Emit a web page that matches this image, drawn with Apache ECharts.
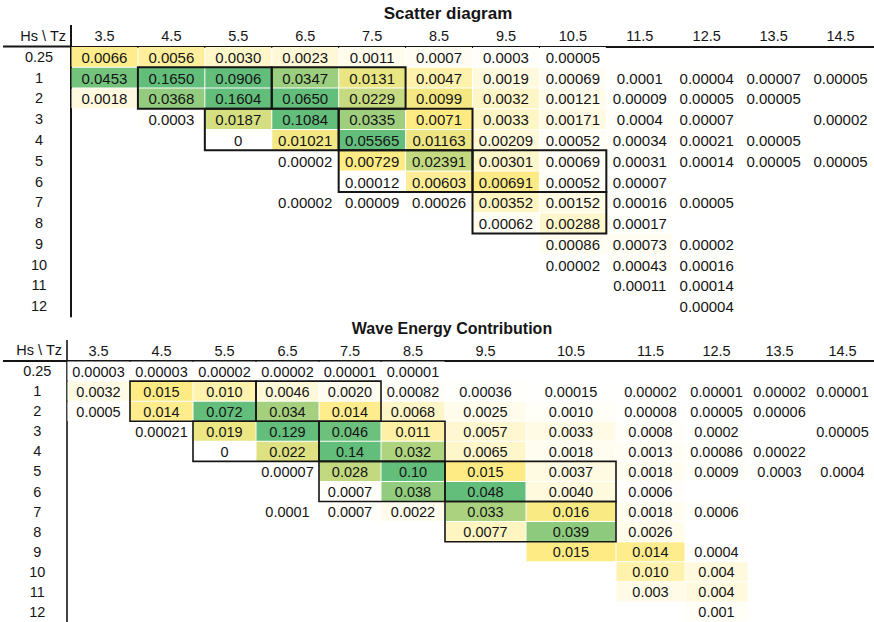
<!DOCTYPE html>
<html>
<head>
<meta charset="utf-8">
<script src="https://cdn.jsdelivr.net/npm/echarts@6/dist/echarts.min.js"></script>
<style>
html,body{margin:0;padding:0;background:#fff;}
#chart{width:874px;height:622px;}
</style>
</head>
<body>
<div id="chart"></div>
<script>
// ---------- data ----------
const tzLabels = ['3.5','4.5','5.5','6.5','7.5','8.5','9.5','10.5','11.5','12.5','13.5','14.5'];
const hsLabels = ['0.25','1','2','3','4','5','6','7','8','9','10','11','12'];

// Scatter diagram (probability of occurrence), rows = Hs, columns = Tz
const scatter025 = ['0.0066','0.0056','0.0030','0.0023','0.0011','0.0007','0.0003','0.00005','','','',''];
const scatter1   = ['0.0453','0.1650','0.0906','0.0347','0.0131','0.0047','0.0019','0.00069','0.0001','0.00004','0.00007','0.00005'];
const scatter2   = ['0.0018','0.0368','0.1604','0.0650','0.0229','0.0099','0.0032','0.00121','0.00009','0.00005','0.00005',''];
const scatter3   = ['','0.0003','0.0187','0.1084','0.0335','0.0071','0.0033','0.00171','0.0004','0.00007','','0.00002'];
const scatter4   = ['','','0','0.01021','0.05565','0.01163','0.00209','0.00052','0.00034','0.00021','0.00005',''];
const scatter5   = ['','','','0.00002','0.00729','0.02391','0.00301','0.00069','0.00031','0.00014','0.00005','0.00005'];
const scatter6   = ['','','','','0.00012','0.00603','0.00691','0.00052','0.00007','','',''];
const scatter7   = ['','','','0.00002','0.00009','0.00026','0.00352','0.00152','0.00016','0.00005','',''];
const scatter8   = ['','','','','','','0.00062','0.00288','0.00017','','',''];
const scatter9   = ['','','','','','','','0.00086','0.00073','0.00002','',''];
const scatter10  = ['','','','','','','','0.00002','0.00043','0.00016','',''];
const scatter11  = ['','','','','','','','','0.00011','0.00014','',''];
const scatter12  = ['','','','','','','','','','0.00004','',''];

// Wave energy contribution, rows = Hs, columns = Tz
const energy025 = ['0.00003','0.00003','0.00002','0.00002','0.00001','0.00001','','','','','',''];
const energy1   = ['0.0032','0.015','0.010','0.0046','0.0020','0.00082','0.00036','0.00015','0.00002','0.00001','0.00002','0.00001'];
const energy2   = ['0.0005','0.014','0.072','0.034','0.014','0.0068','0.0025','0.0010','0.00008','0.00005','0.00006',''];
const energy3   = ['','0.00021','0.019','0.129','0.046','0.011','0.0057','0.0033','0.0008','0.0002','','0.00005'];
const energy4   = ['','','0','0.022','0.14','0.032','0.0065','0.0018','0.0013','0.00086','0.00022',''];
const energy5   = ['','','','0.00007','0.028','0.10','0.015','0.0037','0.0018','0.0009','0.0003','0.0004'];
const energy6   = ['','','','','0.0007','0.038','0.048','0.0040','0.0006','','',''];
const energy7   = ['','','','0.0001','0.0007','0.0022','0.033','0.016','0.0018','0.0006','',''];
const energy8   = ['','','','','','','0.0077','0.039','0.0026','','',''];
const energy9   = ['','','','','','','','0.015','0.014','0.0004','',''];
const energy10  = ['','','','','','','','','0.010','0.004','',''];
const energy11  = ['','','','','','','','','0.003','0.004','',''];
const energy12  = ['','','','','','','','','','0.001','',''];

// outlined blocks: [firstCol, lastCol, firstRow, lastRow] (indices into tzLabels / hsLabels)
const blocks = [[1,2,1,2],[3,4,1,2],[2,3,3,4],[4,5,3,4],[4,5,5,6],[6,7,5,6],[6,7,7,8]];

const scatterRows = [scatter025,scatter1,scatter2,scatter3,scatter4,scatter5,scatter6,scatter7,scatter8,scatter9,scatter10,scatter11,scatter12];
const energyRows  = [energy025,energy1,energy2,energy3,energy4,energy5,energy6,energy7,energy8,energy9,energy10,energy11,energy12];

// ---------- layout / style ----------
const FONT = "'Liberation Sans', Arial, Helvetica, sans-serif";
const INK = '#151515';
const G1 = {left:71, top:46.5, width:803, height:270};
const G2 = {left:67, top:361, width:807, height:262};
const EDGES1 = [];
for (let k = 0; k <= 12; k++) EDGES1.push(k * G1.width / 12);
const EDGES2 = [0,63,126,189,252,314,378,459,549,618,681,744,807];
// colour scale stops (white -> yellow -> green)
const STOPS1 = [[0,[255,255,255]],[0.007,[255,235,132]],[0.05,[99,190,123]]];
const STOPS2 = [[0,[255,255,255]],[0.015,[255,235,132]],[0.048,[99,190,123]]];

function scaleColor(v, stops){
  if (v <= stops[0][0]) return 'rgb(' + stops[0][1].join(',') + ')';
  for (let i = 0; i < stops.length - 1; i++){
    const a = stops[i], b = stops[i+1];
    if (v <= b[0]){
      const t = (v - a[0]) / (b[0] - a[0]);
      const c = a[1].map((x, j) => Math.round(x + (b[1][j] - x) * t));
      return 'rgb(' + c.join(',') + ')';
    }
  }
  return 'rgb(' + stops[stops.length-1][1].join(',') + ')';
}

function centers(edges){
  const out = [];
  for (let i = 0; i < edges.length - 1; i++) out.push((edges[i] + edges[i+1]) / 2);
  return out;
}

function cellSeries(idx, rows, edges, stops, fontSize){
  const data = [], labels = [];
  rows.forEach((row, r) => row.forEach((s, c) => {
    if (s !== '') { data.push([c, r, parseFloat(s)]); labels.push(s); }
  }));
  return {
    type:'custom', xAxisIndex:idx, yAxisIndex:idx, z:2,
    data: data, encode:{x:0, y:1},
    renderItem: function(params, api){
      const c = api.value(0), r = api.value(1), v = api.value(2);
      const p0 = api.coord([edges[c], r]);
      const p1 = api.coord([edges[c+1], r]);
      const h = api.size([0, 1])[1];
      return {
        type:'group',
        children:[
          {type:'rect', shape:{x:p0[0]+0.5, y:p0[1]-h/2+0.5, width:p1[0]-p0[0]-1, height:h-1},
           style:{fill:scaleColor(v, stops)}},
          {type:'text', style:{text:labels[params.dataIndex], x:(p0[0]+p1[0])/2, y:p0[1]+0.5,
            align:'center', verticalAlign:'middle', fill:INK, font: fontSize + 'px ' + FONT}}
        ]
      };
    }
  };
}

function blockSeries(idx, edges, lw){
  return {
    type:'custom', xAxisIndex:idx, yAxisIndex:idx, z:5,
    data: blocks, encode:{x:0, y:2},
    renderItem: function(params, api){
      const c0 = api.value(0), c1 = api.value(1), r0 = api.value(2), r1 = api.value(3);
      const h = api.size([0, 1])[1];
      const a = api.coord([edges[c0], r0]);
      const b = api.coord([edges[c1+1], r1]);
      return {type:'rect', shape:{x:a[0], y:a[1]-h/2, width:b[0]-a[0], height:(b[1]-a[1])+h},
        style:{fill:'none', stroke:INK, lineWidth:lw}};
    }
  };
}

function xAxisFor(idx, grid, edges, margin, fs){
  const cs = centers(edges);
  return {
    gridIndex:idx, type:'value', min:0, max:grid.width, position:'top',
    axisLine:{show:true, onZero:false, lineStyle:{color:INK, width:2}},
    axisTick:{show:false}, splitLine:{show:false},
    axisLabel:{
      customValues: cs, margin: margin, verticalAlign:'middle',
      fontSize: fs, fontFamily: FONT, color: INK,
      formatter: function(v){
        let best = 0, d = Infinity;
        cs.forEach((c, i) => { if (Math.abs(c - v) < d) { d = Math.abs(c - v); best = i; } });
        return tzLabels[best];
      }
    }
  };
}

function yAxisFor(idx, margin, lw){
  return {
    gridIndex:idx, type:'category', data:hsLabels, inverse:true,
    axisLine:{show:true, lineStyle:{color:INK, width:lw}},
    axisTick:{show:false}, splitLine:{show:false},
    axisLabel:{align:'center', margin: margin, fontSize:14.5, fontFamily:FONT, color:INK},
    name:'Hs \\ Tz', nameLocation:'start', nameGap:11,
    nameTextStyle:{align:'right', verticalAlign:'middle', padding:[0,5,0,0], fontSize:14.5, fontFamily:FONT, color:INK}
  };
}

const chart = echarts.init(document.getElementById('chart'), null, {renderer:'svg'});
chart.setOption({
  animation:false,
  backgroundColor:'#fff',
  title:[
    {text:'Scatter diagram', left:448, top:5, padding:0, textAlign:'center',
     textStyle:{fontSize:17, fontWeight:'bold', fontFamily:FONT, color:INK}},
    {text:'Wave Energy Contribution', left:452, top:320.5, padding:0, textAlign:'center',
     textStyle:{fontSize:16, fontWeight:'bold', fontFamily:FONT, color:INK}}
  ],
  grid:[
    Object.assign({containLabel:false}, G1),
    Object.assign({containLabel:false}, G2)
  ],
  xAxis:[ xAxisFor(0, G1, EDGES1, 10.8, 14.5), xAxisFor(1, G2, EDGES2, 10.3, 14.5) ],
  yAxis:[ yAxisFor(0, 32, 2), yAxisFor(1, 29.7, 1.6) ],
  graphic:[
    {type:'line', shape:{x1:3, y1:G1.top, x2:G1.left, y2:G1.top}, style:{stroke:INK, lineWidth:2}, z:10},
    {type:'line', shape:{x1:G1.left, y1:25, x2:G1.left, y2:G1.top}, style:{stroke:INK, lineWidth:2}, z:10},
    {type:'line', shape:{x1:3, y1:G2.top, x2:G2.left, y2:G2.top}, style:{stroke:INK, lineWidth:2}, z:10},
    {type:'line', shape:{x1:G2.left, y1:340, x2:G2.left, y2:G2.top}, style:{stroke:INK, lineWidth:1.6}, z:10}
  ],
  series:[
    cellSeries(0, scatterRows, EDGES1, STOPS1, 15),
    blockSeries(0, EDGES1, 2),
    cellSeries(1, energyRows, EDGES2, STOPS2, 14.5),
    blockSeries(1, EDGES2, 1.6)
  ]
});
</script>
</body>
</html>
